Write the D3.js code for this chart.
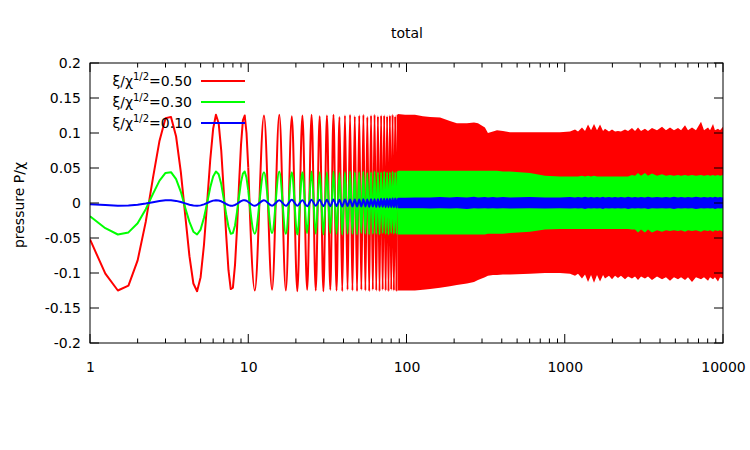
<!DOCTYPE html>
<html>
<head>
<meta charset="utf-8">
<script src="https://cdn.jsdelivr.net/npm/d3@7"></script>
<style>
  html, body { margin: 0; padding: 0; background: #fff; }
  svg { display: block; }
  text { font-family: "DejaVu Sans", Verdana, sans-serif; font-size: 14px; fill: #000; }
</style>
</head>
<body>
<svg id="chart" width="750" height="450"></svg>
<script>
// ---------------- data ----------------
const title = "total";
const yLabel = "pressure P/χ";
const xTicks = [1, 10, 100, 1000, 10000];
const yTicks = [-0.2, -0.15, -0.1, -0.05, 0, 0.05, 0.1, 0.15, 0.2];
const yTickLabels = ["-0.2", "-0.15", "-0.1", "-0.05", "0", "0.05", "0.1", "0.15", "0.2"];
const seriesNames = ["0.50", "0.30", "0.10"];
const seriesColors = ["#ff0000", "#00ff00", "#0000ff"];

// resolved samples, x = 1 .. 10
const sampleX = [1, 1.25, 1.5, 1.75, 2, 2.25, 2.5, 2.75, 3, 3.25, 3.5, 3.75, 4, 4.25, 4.5, 4.75, 5, 5.25, 5.5, 5.75,
  6, 6.25, 6.5, 6.75, 7, 7.25, 7.5, 7.75, 8, 8.25, 8.5, 8.75, 9, 9.25, 9.5, 9.75, 10];
const redSample = [-0.052, -0.101, -0.125, -0.118, -0.082, -0.027, 0.036, 0.089, 0.121, 0.123, 0.095, 0.044, -0.018, -0.076, -0.115, -0.126, -0.106, -0.060, 0.001, 0.061,
  0.106, 0.126, 0.114, 0.075, 0.017, -0.045, -0.096, -0.123, -0.121, -0.088, -0.035, 0.028, 0.083, 0.118, 0.125, 0.100, 0.051];
const greenSample = [-0.019, -0.036, -0.045, -0.042, -0.029, -0.009, 0.013, 0.032, 0.043, 0.044, 0.034, 0.016, -0.007, -0.027, -0.041, -0.045, -0.038, -0.021, 0.000, 0.022,
  0.038, 0.045, 0.041, 0.027, 0.006, -0.016, -0.034, -0.044, -0.043, -0.032, -0.012, 0.010, 0.030, 0.042, 0.045, 0.036, 0.018];
const blueSample = [-0.0017, -0.003, -0.004, -0.0037, -0.0026, -0.0008, 0.0011, 0.0028, 0.0038, 0.0039, 0.003, 0.0014, -0.0006, -0.0024, -0.0036, -0.004, -0.0034, -0.0019, 0.0, 0.0019,
  0.0034, 0.004, 0.0036, 0.0024, 0.0005, -0.0014, -0.003, -0.0039, -0.0038, -0.0028, -0.0011, 0.0009, 0.0026, 0.0038, 0.004, 0.0032, 0.0016];

// oscillation extrema, x = 11 .. 88
const peakX = [11.00, 12.57, 14.14, 15.71, 17.28, 18.85, 20.42, 21.99, 23.56, 25.13, 26.70, 28.27, 29.85, 31.42, 32.99, 34.56,
  36.13, 37.70, 39.27, 40.84, 42.41, 43.98, 45.55, 47.12, 48.69, 50.27, 51.84, 53.41, 54.98, 56.55, 58.12, 59.69,
  61.26, 62.83, 64.40, 65.97, 67.54, 69.12, 70.69, 72.26, 73.83, 75.40, 76.97, 78.54, 80.11, 81.68, 83.25, 84.82, 86.39, 87.96];
const redPeak = [-0.125, 0.125, -0.124, 0.126, -0.125, 0.124, -0.126, 0.125, -0.124, 0.126, -0.125, 0.124, -0.126, 0.125, -0.124, 0.126,
  -0.125, 0.123, -0.126, 0.125, -0.124, 0.126, -0.125, 0.124, -0.126, 0.125, -0.124, 0.126, -0.125, 0.123, -0.126, 0.125,
  -0.124, 0.126, -0.125, 0.124, -0.126, 0.125, -0.124, 0.125, -0.125, 0.124, -0.126, 0.125, -0.124, 0.126, -0.125, 0.124, -0.125, 0.126];
const greenPeak = [-0.044, 0.044, -0.043, 0.045, -0.044, 0.044, -0.045, 0.044, -0.043, 0.045, -0.044, 0.044, -0.045, 0.044, -0.043, 0.045,
  -0.044, 0.043, -0.045, 0.044, -0.044, 0.045, -0.044, 0.044, -0.045, 0.044, -0.043, 0.045, -0.044, 0.043, -0.045, 0.044,
  -0.044, 0.045, -0.044, 0.044, -0.045, 0.044, -0.043, 0.045, -0.044, 0.044, -0.045, 0.044, -0.043, 0.045, -0.044, 0.044, -0.044, 0.045];
const bluePeak = [-0.004, 0.004, -0.004, 0.004, -0.004, 0.0045, -0.004, 0.004, -0.0045, 0.0045, -0.004, 0.0045, -0.0045, 0.0045, -0.0045, 0.005,
  -0.0045, 0.0045, -0.005, 0.005, -0.0045, 0.005, -0.005, 0.005, -0.005, 0.005, -0.005, 0.0055, -0.005, 0.005, -0.0055, 0.0055,
  -0.005, 0.0055, -0.0055, 0.0055, -0.0055, 0.006, -0.0055, 0.006, -0.006, 0.006, -0.006, 0.006, -0.006, 0.0065, -0.006, 0.0065, -0.0065, 0.0065];

// dense (unresolved) part, drawn as envelopes, x = 88 .. 10000
const bandX = [88, 98, 113, 127, 141, 163, 188, 208, 241, 267, 283, 313, 327, 352, 373, 407, 451, 603, 750, 933,
  1080, 1161, 1213, 1285, 1343, 1403, 1466, 1531, 1599, 1671, 1746, 1796, 1904, 1989, 2079, 2170, 2266, 2403, 2512, 2660,
  2780, 2904, 3034, 3213, 3358, 3558, 3828, 4118, 4362, 4625, 4900, 5196, 5431, 5754, 6010, 6370, 6748, 7263, 7586, 8042,
  8279, 8650, 8896, 9298, 9573, 10000];
const redUpper = [0.127, 0.126, 0.126, 0.124, 0.123, 0.122, 0.117, 0.114, 0.114, 0.115, 0.114, 0.108, 0.100, 0.102, 0.104, 0.103, 0.101, 0.101, 0.101, 0.101,
  0.102, 0.105, 0.102, 0.108, 0.103, 0.112, 0.104, 0.113, 0.104, 0.112, 0.103, 0.106, 0.102, 0.105, 0.102, 0.103, 0.102, 0.105, 0.103, 0.107,
  0.103, 0.108, 0.103, 0.106, 0.103, 0.107, 0.104, 0.109, 0.104, 0.108, 0.104, 0.107, 0.104, 0.111, 0.104, 0.108, 0.104, 0.116, 0.104, 0.108,
  0.104, 0.113, 0.104, 0.106, 0.104, 0.109];
const redLower = [-0.125, -0.125, -0.125, -0.124, -0.123, -0.121, -0.119, -0.117, -0.115, -0.113, -0.110, -0.106, -0.104, -0.103, -0.103, -0.102, -0.102, -0.101, -0.100, -0.100,
  -0.101, -0.104, -0.101, -0.108, -0.102, -0.113, -0.103, -0.114, -0.103, -0.112, -0.103, -0.108, -0.104, -0.109, -0.104, -0.107, -0.104, -0.109, -0.105, -0.108,
  -0.105, -0.110, -0.105, -0.108, -0.105, -0.110, -0.105, -0.109, -0.106, -0.111, -0.106, -0.109, -0.106, -0.110, -0.106, -0.113, -0.106, -0.109, -0.106, -0.111,
  -0.106, -0.109, -0.106, -0.112, -0.106, -0.108];
const greenUpper = [0.046, 0.046, 0.046, 0.046, 0.046, 0.046, 0.046, 0.046, 0.046, 0.046, 0.046, 0.046, 0.046, 0.046, 0.046, 0.045, 0.045, 0.043, 0.039, 0.038,
  0.038, 0.038, 0.038, 0.039, 0.038, 0.039, 0.038, 0.039, 0.038, 0.038, 0.038, 0.038, 0.038, 0.038, 0.038, 0.038, 0.038, 0.038, 0.038, 0.040,
  0.039, 0.043, 0.039, 0.043, 0.039, 0.042, 0.039, 0.041, 0.039, 0.040, 0.039, 0.040, 0.039, 0.040, 0.039, 0.040, 0.039, 0.040, 0.039, 0.040,
  0.039, 0.040, 0.039, 0.040, 0.039, 0.040];
const greenLower = [-0.045, -0.045, -0.045, -0.045, -0.045, -0.045, -0.045, -0.045, -0.045, -0.045, -0.045, -0.045, -0.044, -0.044, -0.044, -0.044, -0.043, -0.041, -0.038, -0.037,
  -0.037, -0.037, -0.037, -0.037, -0.037, -0.037, -0.037, -0.037, -0.037, -0.037, -0.037, -0.037, -0.037, -0.037, -0.037, -0.037, -0.037, -0.037, -0.037, -0.038,
  -0.038, -0.042, -0.038, -0.042, -0.038, -0.042, -0.039, -0.041, -0.039, -0.040, -0.039, -0.040, -0.039, -0.041, -0.039, -0.040, -0.039, -0.041, -0.039, -0.040,
  -0.039, -0.041, -0.039, -0.040, -0.039, -0.041];
const blueUpper = [0.0075, 0.0075, 0.008, 0.008, 0.008, 0.0085, 0.008, 0.0085, 0.008, 0.009, 0.008, 0.0085, 0.008, 0.0085, 0.008, 0.0085, 0.008, 0.0085, 0.008, 0.008,
  0.0085, 0.008, 0.0085, 0.008, 0.009, 0.008, 0.0085, 0.008, 0.0085, 0.008, 0.009, 0.008, 0.0085, 0.008, 0.0085, 0.008, 0.0085, 0.008, 0.009, 0.008,
  0.0085, 0.008, 0.0085, 0.008, 0.009, 0.008, 0.0085, 0.008, 0.0085, 0.008, 0.009, 0.008, 0.0085, 0.008, 0.0085, 0.008, 0.009, 0.008, 0.0085, 0.008,
  0.0085, 0.008, 0.009, 0.008, 0.0085, 0.008];
const blueLower = [-0.0075, -0.0075, -0.0075, -0.0075, -0.008, -0.0075, -0.008, -0.0075, -0.0085, -0.0075, -0.008, -0.0075, -0.008, -0.0075, -0.008, -0.0075, -0.008, -0.0075, -0.008, -0.0075,
  -0.008, -0.0075, -0.008, -0.0075, -0.0085, -0.0075, -0.008, -0.0075, -0.008, -0.0075, -0.0085, -0.0075, -0.008, -0.0075, -0.008, -0.0075, -0.008, -0.0075, -0.0085, -0.0075,
  -0.008, -0.0075, -0.008, -0.0075, -0.0085, -0.0075, -0.008, -0.0075, -0.008, -0.0075, -0.0085, -0.0075, -0.008, -0.0075, -0.008, -0.0075, -0.0085, -0.0075, -0.008, -0.0075,
  -0.008, -0.0075, -0.0085, -0.0075, -0.008, -0.0075];

// ---------------- layout ----------------
const svg = d3.select("#chart");
const mLeft = 90, mRight = 723, mTop = 63, mBottom = 343;
const x = d3.scaleLog().domain([1, 10000]).range([mLeft, mRight]);
const y = d3.scaleLinear().domain([-0.2, 0.2]).range([mBottom, mTop]);

const series = [
  { name: seriesNames[0], color: seriesColors[0], s: redSample, p: redPeak, up: redUpper, lo: redLower },
  { name: seriesNames[1], color: seriesColors[1], s: greenSample, p: greenPeak, up: greenUpper, lo: greenLower },
  { name: seriesNames[2], color: seriesColors[2], s: blueSample, p: bluePeak, up: blueUpper, lo: blueLower }
];

svg.append("defs").append("clipPath").attr("id", "plotclip")
  .append("rect").attr("x", mLeft).attr("y", mTop).attr("width", mRight - mLeft).attr("height", mBottom - mTop);

const plot = svg.append("g").attr("clip-path", "url(#plotclip)");
const lineLin = d3.line().x(d => x(d[0])).y(d => y(d[1])).curve(d3.curveLinear);
const lineMono = d3.line().x(d => x(d[0])).y(d => y(d[1])).curve(d3.curveMonotoneX);
const area = d3.area().x(d => x(d[0])).y0(d => y(d[2])).y1(d => y(d[1])).curve(d3.curveLinear);

series.forEach(sr => {
  const g = plot.append("g");
  const samplePts = sampleX.map((v, i) => [v, sr.s[i]]);
  const peakPts = [[sampleX[sampleX.length - 1], sr.s[sr.s.length - 1]]].concat(peakX.map((v, i) => [v, sr.p[i]]));
  const bandPts = bandX.map((v, i) => [v, sr.up[i], sr.lo[i]]);
  g.append("path").attr("d", area(bandPts)).attr("fill", sr.color).attr("stroke", "none");
  g.append("path").attr("d", lineMono(peakPts)).attr("fill", "none").attr("stroke", sr.color)
    .attr("stroke-width", 2).attr("stroke-linejoin", "round");
  g.append("path").attr("d", lineLin(samplePts)).attr("fill", "none").attr("stroke", sr.color)
    .attr("stroke-width", 2).attr("stroke-linejoin", "round");
});

// ---------------- axes ----------------
const axisG = svg.append("g");
const xMinor = [];
for (let dec = 1; dec < 10000; dec *= 10) for (let k = 2; k <= 9; k++) xMinor.push(dec * k);
xMinor.forEach(v => {
  axisG.append("line").attr("x1", x(v)).attr("x2", x(v)).attr("y1", mBottom).attr("y2", mBottom - 4.5).attr("stroke", "#000");
  axisG.append("line").attr("x1", x(v)).attr("x2", x(v)).attr("y1", mTop).attr("y2", mTop + 4.5).attr("stroke", "#000");
});
xTicks.forEach(v => {
  axisG.append("line").attr("x1", x(v)).attr("x2", x(v)).attr("y1", mBottom).attr("y2", mBottom - 9).attr("stroke", "#000");
  axisG.append("line").attr("x1", x(v)).attr("x2", x(v)).attr("y1", mTop).attr("y2", mTop + 9).attr("stroke", "#000");
});
yTicks.forEach(v => {
  axisG.append("line").attr("x1", mLeft).attr("x2", mLeft + 9).attr("y1", y(v)).attr("y2", y(v)).attr("stroke", "#000");
  axisG.append("line").attr("x1", mRight).attr("x2", mRight - 9).attr("y1", y(v)).attr("y2", y(v)).attr("stroke", "#000");
});
const bottomAxis = d3.axisBottom(x).tickValues(xTicks).tickFormat(d3.format("d")).tickSize(0).tickPadding(0);
const xl = svg.append("g").attr("transform", `translate(0,${mBottom + 19})`).call(bottomAxis);
xl.select(".domain").remove();
xl.selectAll("text").attr("font-family", "DejaVu Sans, Verdana, sans-serif").attr("font-size", 14).attr("fill", "#000").attr("dy", "0.71em");
const leftAxis = d3.axisLeft(y).tickValues(yTicks).tickFormat((d, i) => yTickLabels[i]).tickSize(0).tickPadding(0);
const yl = svg.append("g").attr("transform", `translate(${mLeft - 9},0)`).call(leftAxis);
yl.select(".domain").remove();
yl.selectAll("text").attr("font-family", "DejaVu Sans, Verdana, sans-serif").attr("font-size", 14).attr("fill", "#000");

svg.append("rect").attr("x", mLeft).attr("y", mTop).attr("width", mRight - mLeft).attr("height", mBottom - mTop)
  .attr("fill", "none").attr("stroke", "#000").attr("stroke-width", 1);

svg.append("text").attr("x", 407).attr("y", 38).attr("text-anchor", "middle").text(title);
svg.append("text").attr("transform", "translate(24,205) rotate(-90)").attr("text-anchor", "middle").text(yLabel);

const legY = [81, 102, 123];
series.forEach((sr, i) => {
  const t = svg.append("text").attr("x", 192).attr("y", legY[i] + 5).attr("text-anchor", "end");
  t.append("tspan").text("ξ/χ");
  t.append("tspan").attr("font-size", 10).attr("dy", -6).text("1/2");
  t.append("tspan").attr("dy", 6).text("=" + sr.name);
  svg.append("line").attr("x1", 201).attr("x2", 245).attr("y1", legY[i]).attr("y2", legY[i])
    .attr("stroke", sr.color).attr("stroke-width", 2);
});
</script>
</body>
</html>
